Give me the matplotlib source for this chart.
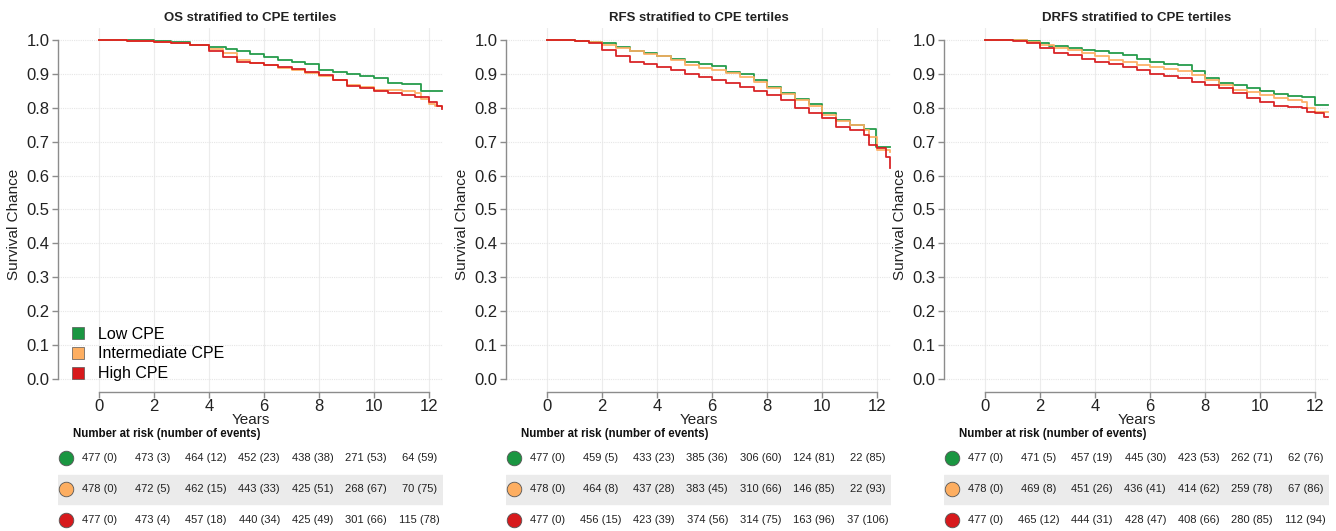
import matplotlib
matplotlib.use("Agg")
import matplotlib.pyplot as plt
from matplotlib.lines import Line2D

plt.rcParams['font.family'] = ['Liberation Sans', 'DejaVu Sans']

########### chart data
groups = ["Low CPE", "Intermediate CPE", "High CPE"]
colors = ["#1a9641", "#fdae61", "#d7191c"]
titles = ["OS stratified to CPE tertiles", "RFS stratified to CPE tertiles", "DRFS stratified to CPE tertiles"]

risk_times = [0, 2, 4, 6, 8, 10, 12]

# OS curves
os_low_t = [0, 1.0, 2.0, 2.6, 3.3, 4.0, 4.6, 5.0, 5.5, 6.0, 6.5, 7.0, 7.5, 8.0, 8.5, 9.0, 9.5, 10.0, 10.5, 11.0, 11.7, 12.45]
os_low_s = [1.0, 0.999, 0.997, 0.993, 0.985, 0.978, 0.972, 0.966, 0.958, 0.949, 0.942, 0.934, 0.928, 0.912, 0.905, 0.900, 0.893, 0.887, 0.874, 0.870, 0.850, 0.848]
os_mid_t = [0, 1.0, 2.0, 2.6, 3.3, 4.0, 4.5, 5.0, 5.5, 6.0, 6.5, 7.0, 7.5, 8.0, 8.5, 9.0, 9.5, 10.0, 10.5, 11.0, 11.5, 11.7, 12.0, 12.2, 12.45]
os_mid_s = [1.0, 0.998, 0.994, 0.990, 0.985, 0.972, 0.960, 0.940, 0.933, 0.926, 0.918, 0.911, 0.903, 0.894, 0.882, 0.868, 0.860, 0.853, 0.851, 0.850, 0.843, 0.827, 0.812, 0.806, 0.803]
os_high_t = [0, 1.0, 2.0, 2.6, 3.3, 4.0, 4.5, 5.0, 5.5, 6.0, 6.5, 7.0, 7.5, 8.0, 8.5, 9.0, 9.5, 10.0, 10.5, 11.0, 11.5, 12.0, 12.3, 12.45]
os_high_s = [1.0, 0.998, 0.995, 0.992, 0.985, 0.968, 0.950, 0.936, 0.931, 0.926, 0.920, 0.913, 0.905, 0.897, 0.883, 0.864, 0.857, 0.850, 0.842, 0.837, 0.832, 0.818, 0.805, 0.795]

# RFS curves
rfs_low_t = [0, 1.0, 1.5, 2.0, 2.5, 3.0, 3.5, 4.0, 4.5, 5.0, 5.5, 6.0, 6.5, 7.0, 7.5, 8.0, 8.5, 9.0, 9.5, 10.0, 10.5, 11.0, 11.5, 11.95, 12.45]
rfs_low_s = [1.0, 0.998, 0.993, 0.990, 0.978, 0.966, 0.960, 0.953, 0.945, 0.936, 0.930, 0.923, 0.906, 0.900, 0.882, 0.862, 0.842, 0.827, 0.812, 0.783, 0.764, 0.749, 0.736, 0.683, 0.683]
rfs_mid_t = [0, 1.0, 1.5, 2.0, 2.5, 3.0, 3.5, 4.0, 4.5, 5.0, 5.5, 6.0, 6.5, 7.0, 7.5, 8.0, 8.5, 9.0, 9.5, 10.0, 10.5, 11.0, 11.5, 11.7, 12.0, 12.45]
rfs_mid_s = [1.0, 0.998, 0.993, 0.985, 0.975, 0.966, 0.958, 0.951, 0.940, 0.926, 0.918, 0.912, 0.902, 0.892, 0.875, 0.857, 0.840, 0.823, 0.805, 0.779, 0.762, 0.749, 0.735, 0.715, 0.675, 0.668]
rfs_high_t = [0, 1.0, 1.5, 2.0, 2.5, 3.0, 3.5, 4.0, 4.5, 5.0, 5.5, 6.0, 6.5, 7.0, 7.5, 8.0, 8.5, 9.0, 9.5, 10.0, 10.5, 11.0, 11.5, 11.7, 12.0, 12.3, 12.45]
rfs_high_s = [1.0, 0.998, 0.990, 0.970, 0.951, 0.936, 0.928, 0.919, 0.910, 0.900, 0.891, 0.882, 0.872, 0.860, 0.848, 0.837, 0.823, 0.798, 0.785, 0.769, 0.744, 0.735, 0.720, 0.690, 0.680, 0.656, 0.622]

# DRFS curves
drfs_low_t = [0, 1.0, 1.5, 2.0, 2.3, 3.0, 3.5, 4.0, 4.5, 5.0, 5.5, 6.0, 6.5, 7.0, 7.5, 8.0, 8.5, 9.0, 9.5, 10.0, 10.5, 11.0, 11.5, 12.0, 12.45]
drfs_low_s = [1.0, 0.999, 0.997, 0.990, 0.983, 0.975, 0.970, 0.966, 0.960, 0.954, 0.945, 0.936, 0.928, 0.926, 0.907, 0.887, 0.872, 0.867, 0.857, 0.848, 0.841, 0.835, 0.833, 0.808, 0.808]
drfs_mid_t = [0, 1.0, 1.5, 2.0, 2.5, 3.0, 3.5, 4.0, 4.5, 5.0, 5.5, 6.0, 6.5, 7.0, 7.5, 8.0, 8.5, 9.0, 9.5, 10.0, 10.5, 11.0, 11.5, 11.7, 12.0, 12.45]
drfs_mid_s = [1.0, 0.999, 0.995, 0.985, 0.975, 0.969, 0.960, 0.951, 0.942, 0.934, 0.927, 0.921, 0.914, 0.907, 0.895, 0.882, 0.867, 0.853, 0.845, 0.838, 0.830, 0.823, 0.818, 0.800, 0.788, 0.786]
drfs_high_t = [0, 1.0, 1.5, 2.0, 2.5, 3.0, 3.5, 4.0, 4.5, 5.0, 5.5, 6.0, 6.5, 7.0, 7.5, 8.0, 8.5, 9.0, 9.5, 10.0, 10.5, 11.0, 11.5, 11.7, 12.0, 12.3, 12.45]
drfs_high_s = [1.0, 0.997, 0.990, 0.975, 0.960, 0.954, 0.945, 0.936, 0.928, 0.921, 0.910, 0.900, 0.893, 0.887, 0.877, 0.867, 0.857, 0.843, 0.830, 0.818, 0.806, 0.803, 0.800, 0.788, 0.785, 0.773, 0.773]

# number at risk (number of events) per panel, per group
os_risk = [["477 (0)", "473 (3)", "464 (12)", "452 (23)", "438 (38)", "271 (53)", "64 (59)"],
           ["478 (0)", "472 (5)", "462 (15)", "443 (33)", "425 (51)", "268 (67)", "70 (75)"],
           ["477 (0)", "473 (4)", "457 (18)", "440 (34)", "425 (49)", "301 (66)", "115 (78)"]]
rfs_risk = [["477 (0)", "459 (5)", "433 (23)", "385 (36)", "306 (60)", "124 (81)", "22 (85)"],
            ["478 (0)", "464 (8)", "437 (28)", "383 (45)", "310 (66)", "146 (85)", "22 (93)"],
            ["477 (0)", "456 (15)", "423 (39)", "374 (56)", "314 (75)", "163 (96)", "37 (106)"]]
drfs_risk = [["477 (0)", "471 (5)", "457 (19)", "445 (30)", "423 (53)", "262 (71)", "62 (76)"],
             ["478 (0)", "469 (8)", "451 (26)", "436 (41)", "414 (62)", "259 (78)", "67 (86)"],
             ["477 (0)", "465 (12)", "444 (31)", "428 (47)", "408 (66)", "280 (85)", "112 (94)"]]

panels = [
    ([(os_low_t, os_low_s), (os_mid_t, os_mid_s), (os_high_t, os_high_s)], os_risk),
    ([(rfs_low_t, rfs_low_s), (rfs_mid_t, rfs_mid_s), (rfs_high_t, rfs_high_s)], rfs_risk),
    ([(drfs_low_t, drfs_low_s), (drfs_mid_t, drfs_mid_s), (drfs_high_t, drfs_high_s)], drfs_risk),
]

########### layout
W, H = 1336, 531
fig = plt.figure(figsize=(W / 100, H / 100), dpi=100)
axes_left_px = [58, 506, 944]
axes_w_px = 385
top_px, bottom_px = 28, 392
grey = "#8c8c8c"

for i, (curves, risk) in enumerate(panels):
    lx = axes_left_px[i]
    ax = fig.add_axes([lx / W, 1 - bottom_px / H, axes_w_px / W, (bottom_px - top_px) / H])
    ax.set_xlim(-1.5, 12.5)
    ax.set_ylim(-0.038, 1.035)

    for (t, s), c in zip(curves, colors):
        ax.step(t, s, where='post', color=c, lw=1.3, alpha=0.95)

    # grid
    for x in risk_times:
        ax.axvline(x, color="#ececec", lw=0.8, zorder=0)
    for k in range(11):
        ax.axhline(k / 10, color="#e6e6e6", lw=0.8, ls=(0, (1, 1)), zorder=0)

    for sp in ["top", "right"]:
        ax.spines[sp].set_visible(False)
    ax.spines["left"].set_bounds(0, 1)
    ax.spines["bottom"].set_bounds(0, 12)
    for sp in ["left", "bottom"]:
        ax.spines[sp].set_color(grey)
        ax.spines[sp].set_linewidth(1.0)
    ax.set_xticks(risk_times)
    ax.set_yticks([k / 10 for k in range(11)])
    ax.set_yticklabels(["%.1f" % (k / 10) for k in range(11)])
    ax.tick_params(colors=grey, labelcolor="#222222", labelsize=12, length=4, width=1.0, pad=2)
    ax.tick_params(axis="x", pad=1)
    ax.set_xlabel("Years", fontsize=11, color="#222222")
    ax.xaxis.set_label_coords(0.5, -0.057)
    ax.set_ylabel("Survival Chance", fontsize=11, color="#222222")
    ax.yaxis.set_label_coords(-0.097, 0.46)
    ax.set_title(titles[i], fontsize=9.5, fontweight="bold", color="#222222", pad=5)

    if i == 0:
        handles = [Line2D([], [], ls="none", marker="s", markersize=8, markerfacecolor=c,
                          markeredgecolor="#555555", markeredgewidth=0.5) for c in colors]
        ax.legend(handles, groups, loc="lower left", bbox_to_anchor=(0.02, 0.012), frameon=False,
                  fontsize=11.5, handlelength=0.8, handletextpad=0.8, labelspacing=0.3,
                  borderaxespad=0.0)

    # risk table under each panel, y in pixel rows
    tax = fig.add_axes([lx / W, 0, axes_w_px / W, 130 / H])
    tax.set_xlim(-1.5, 12.5)
    tax.set_ylim(531, 401)
    tax.axis("off")
    tax.text(-0.95, 434, "Number at risk (number of events)", fontsize=8.3, fontweight="bold",
             color="#111111", va="center", ha="left")
    row_y = [458, 489, 520]
    tax.axhspan(475, 504, color="#ebebeb", zorder=0)
    for r in range(3):
        tax.scatter([-1.2], [row_y[r]], s=110, color=colors[r], edgecolor="#555555", linewidth=0.6,
                    zorder=3, clip_on=False)
        for j, t in enumerate(risk_times):
            tax.text(t * 0.97, row_y[r], risk[r][j], fontsize=8, color="#222222",
                     ha="center", va="center")

fig.savefig("out.png", dpi=100)
